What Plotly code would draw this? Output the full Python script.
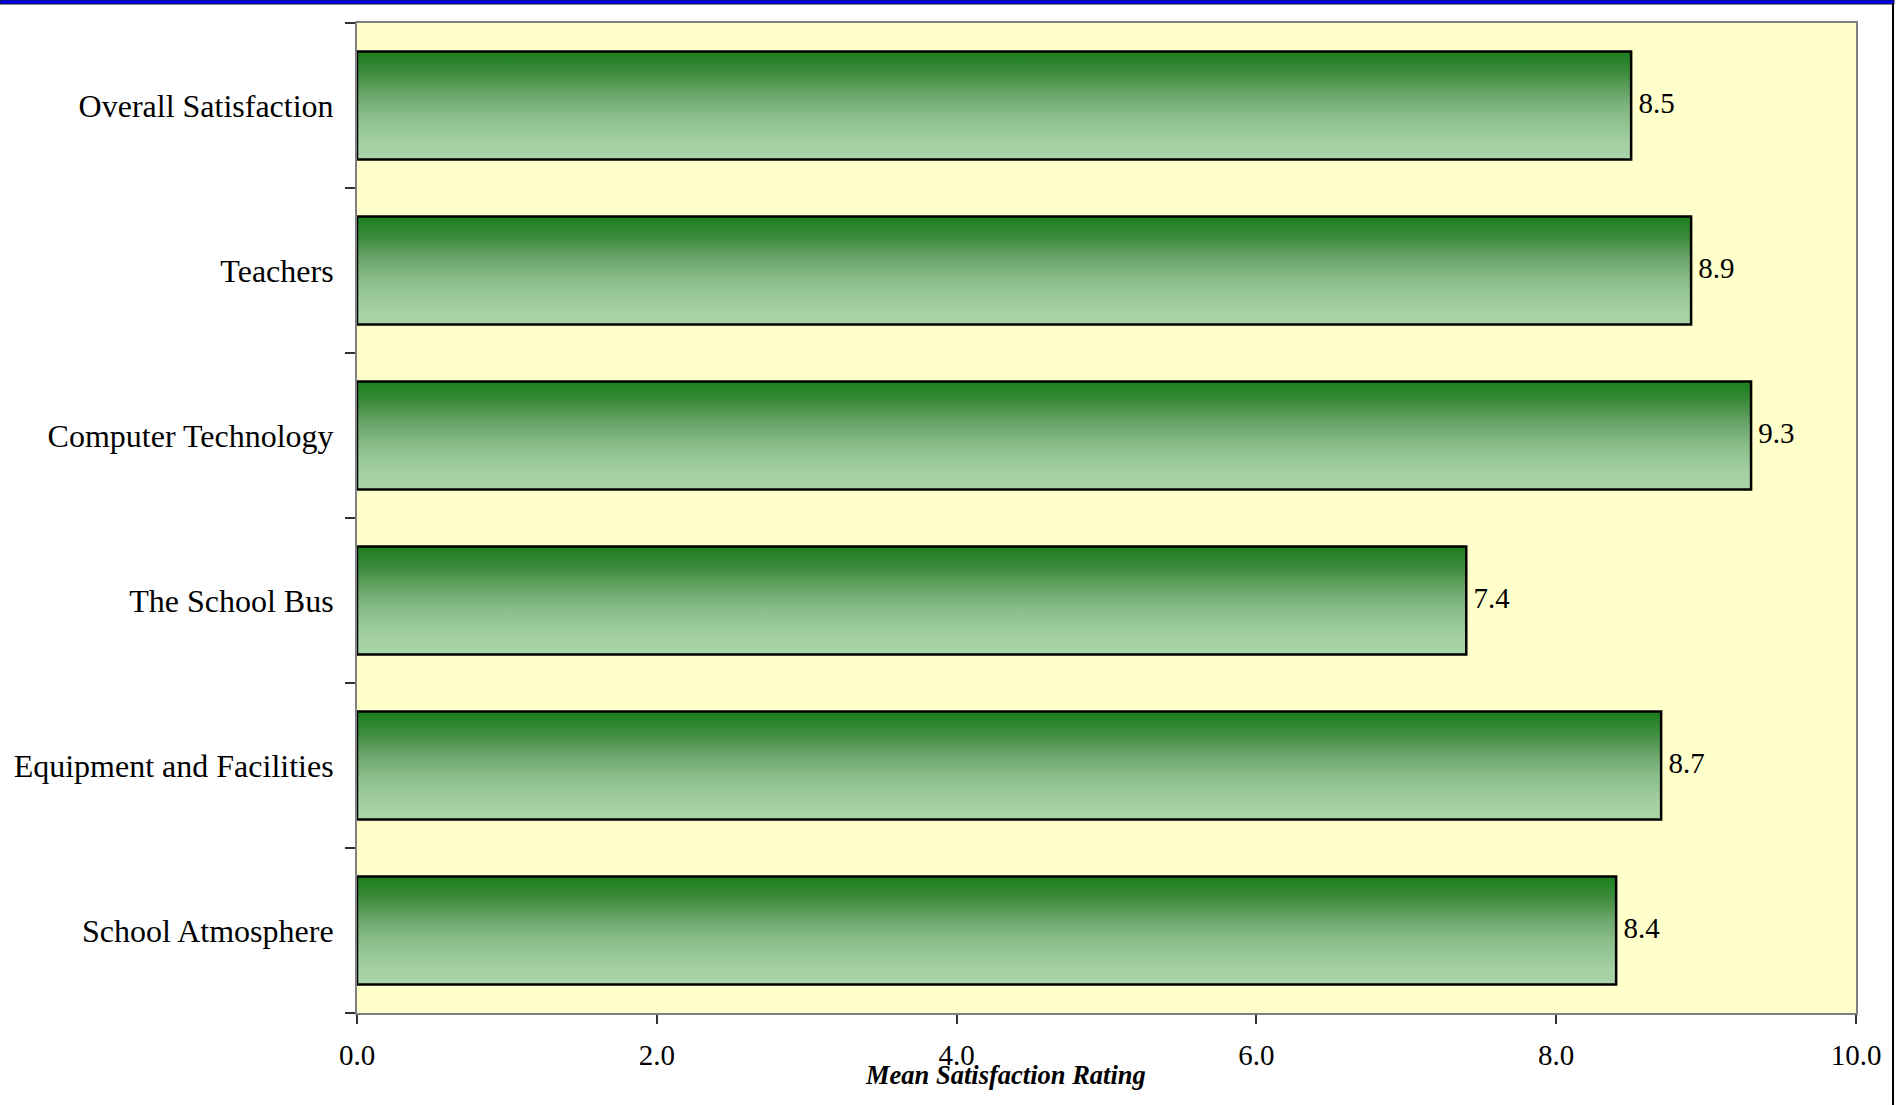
import plotly.graph_objects as go

# Survey categories, listed top to bottom as they appear on the chart
categories = [
    "Overall Satisfaction",
    "Teachers",
    "Computer Technology",
    "The School Bus",
    "Equipment and Facilities",
    "School Atmosphere",
]
mean_ratings = [8.5, 8.9, 9.3, 7.4, 8.7, 8.4]
x_tick_values = [0, 2, 4, 6, 8, 10]
x_title = "Mean Satisfaction Rating"

n = len(categories)
positions = [n - 1 - i for i in range(n)]          # top category gets the highest y
boundaries = [p - 0.5 for p in range(n + 1)]
half = 0.327                                          # half bar thickness in category units

# Green vertical gradient (0 = bottom of bar, 1 = top)
gradient = [
    [0.0, "#A9D5A9"],
    [0.15, "#A3D0A3"],
    [0.4, "#8BBE8B"],
    [0.6, "#6CA66C"],
    [0.8, "#3E8C3E"],
    [1.0, "#1B7E1B"],
]

fig = go.Figure()

for cat, val, pos in zip(categories, mean_ratings, positions):
    fig.add_trace(go.Scatter(
        x=[0, val, val, 0, 0],
        y=[pos - half, pos - half, pos + half, pos + half, pos - half],
        mode="lines",
        fill="toself",
        fillgradient=dict(type="vertical", colorscale=gradient),
        line=dict(color="black", width=2.5),
        name=cat,
        hoverinfo="skip",
        showlegend=False,
    ))

# Value labels at the end of each bar
fig.add_trace(go.Scatter(
    x=mean_ratings,
    y=positions,
    mode="text",
    text=[" " + f"{v:.1f}" for v in mean_ratings],
    textposition="middle right",
    textfont=dict(family="Liberation Serif", size=29, color="black"),
    showlegend=False,
    hoverinfo="skip",
))

W, H = 1902, 1105
L, R, T, B = 357, 46, 23, 92
pw, ph = W - L - R, H - T - B


def px_x(v):
    return (v - L) / pw


def px_y(v):
    return (H - B - v) / ph


fig.update_layout(
    width=W,
    height=H,
    margin=dict(l=L, r=R, t=T, b=B, pad=0),
    paper_bgcolor="white",
    plot_bgcolor="#FFFFCC",
    font=dict(family="Liberation Serif", color="black"),
    xaxis=dict(
        range=[0, 10],
        tickmode="array",
        tickvals=x_tick_values,
        tickformat=".1f",
        ticks="outside",
        ticklen=9,
        tickwidth=1.5,
        tickcolor="#333333",
        tickfont=dict(size=29, family="Liberation Serif"),
        ticklabelstandoff=6,
        showline=True,
        linecolor="#808080",
        linewidth=2,
        mirror=True,
        showgrid=False,
        zeroline=False,
        fixedrange=True,
    ),
    yaxis=dict(
        range=[-0.5, n - 0.5],
        tickmode="array",
        tickvals=positions,
        ticktext=categories,
        ticks="",
        tickfont=dict(size=32, family="Liberation Serif"),
        ticklabelstandoff=15,
        minor=dict(
            tickmode="array",
            tickvals=boundaries,
            ticks="outside",
            ticklen=10,
            tickwidth=1.5,
            tickcolor="#333333",
            showgrid=False,
        ),
        showline=True,
        linecolor="#808080",
        linewidth=2,
        mirror=True,
        showgrid=False,
        zeroline=False,
        fixedrange=True,
    ),
    annotations=[
        dict(
            text="<b><i>" + x_title + "</i></b>",
            xref="paper", yref="paper",
            x=px_x(1005), y=px_y(1075),
            xanchor="center", yanchor="middle",
            showarrow=False,
            font=dict(size=26.5, family="Liberation Serif", color="black"),
        )
    ],
    shapes=[
        # blue band across the top of the page
        dict(type="rect", xref="paper", yref="paper",
             x0=px_x(0), x1=px_x(1894), y0=px_y(4), y1=px_y(0),
             fillcolor="#0000F0", line=dict(color="#101030", width=1), layer="above"),
        # right frame edge
        dict(type="line", xref="paper", yref="paper",
             x0=px_x(1893), x1=px_x(1893), y0=px_y(4), y1=px_y(1105),
             line=dict(color="black", width=2), layer="above"),
    ],
)

fig.write_html("out.html")
